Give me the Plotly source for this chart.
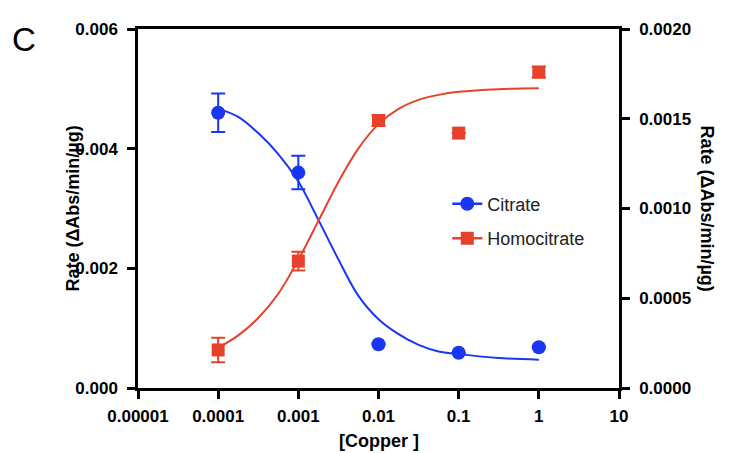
import plotly.graph_objects as go

# ---- data ----
copper = [0.0001, 0.001, 0.01, 0.1, 1]
citrate = [0.0046, 0.0036, 0.00073, 0.00059, 0.00068]
citrate_err = [0.00032, 0.00028, 0, 0, 0]
homocitrate = [0.000212, 0.000707, 0.00149, 0.00142, 0.00176]
homocitrate_err = [0.000068, 0.000052, 0.00003, 0, 0.00003]

# fitted curves
fit_x = [0.0001, 0.000178, 0.000316, 0.000562, 0.001, 0.00178, 0.00316, 0.00562,
         0.01, 0.0178, 0.0316, 0.0562, 0.1, 0.316, 1]
citrate_fit = [0.00467, 0.00453, 0.00426, 0.00391, 0.00345, 0.00281, 0.00215, 0.00154,
               0.00115, 0.0009, 0.00072, 0.00061, 0.000566, 0.0005, 0.000473]
homocitrate_fit = [0.000224, 0.000293, 0.00039, 0.000525, 0.000714, 0.000931, 0.001148, 0.001335,
                   0.00147, 0.001555, 0.001605, 0.001633, 0.00165, 0.001665, 0.00167]

x_tickvals = [0.00001, 0.0001, 0.001, 0.01, 0.1, 1, 10]
x_ticktext = ["0.00001", "0.0001", "0.001", "0.01", "0.1", "1", "10"]
y1_ticks = [0, 0.002, 0.004, 0.006]
y2_ticks = [0, 0.0005, 0.001, 0.0015, 0.002]

BLUE = "#1836F3"
RED = "#E8412B"
FONT = "Liberation Sans, Arial, sans-serif"

fig = go.Figure()

fig.add_trace(go.Scatter(x=fit_x, y=citrate_fit, mode="lines", line=dict(color=BLUE, width=2, shape="spline"),
                         showlegend=False, yaxis="y"))
fig.add_trace(go.Scatter(x=fit_x, y=homocitrate_fit, mode="lines", line=dict(color=RED, width=2, shape="spline"),
                         showlegend=False, yaxis="y2"))
fig.add_trace(go.Scatter(x=copper, y=citrate, mode="markers",
                         marker=dict(symbol="circle", size=14, color=BLUE),
                         error_y=dict(type="data", array=citrate_err, color=BLUE, thickness=2, width=7),
                         showlegend=False, yaxis="y"))
fig.add_trace(go.Scatter(x=copper, y=homocitrate, mode="markers",
                         marker=dict(symbol="square", size=13, color=RED),
                         error_y=dict(type="data", array=homocitrate_err, color=RED, thickness=2, width=7),
                         showlegend=False, yaxis="y2"))
# legend entries
fig.add_trace(go.Scatter(x=[None], y=[None], mode="lines+markers", name="Citrate",
                         line=dict(color=BLUE, width=2.5), marker=dict(symbol="circle", size=14, color=BLUE),
                         legendgroup="a"))
fig.add_trace(go.Scatter(x=[None], y=[None], mode="lines+markers", name="Homocitrate",
                         line=dict(color=RED, width=2.5), marker=dict(symbol="square", size=13, color=RED),
                         legendgroup="b"))

axis_common = dict(showline=True, linecolor="black", linewidth=2.5, ticks="outside", ticklen=8,
                   tickwidth=2.5, tickcolor="black", showgrid=False, zeroline=False,
                   tickfont=dict(family=FONT, size=17, color="black", weight="bold"))

fig.update_layout(
    width=731, height=453,
    margin=dict(l=130, r=120, t=12, b=73),
    paper_bgcolor="white", plot_bgcolor="white",
    showlegend=True,
    legend=dict(x=0.643, y=0.465, xanchor="left", yanchor="middle", bgcolor="rgba(0,0,0,0)",
                font=dict(family=FONT, size=18, color="#222"), tracegroupgap=8, traceorder="grouped"),
    xaxis=dict(type="log", range=[-5, 1], tickvals=x_tickvals, ticktext=x_ticktext, mirror=True,
               ticklabelstandoff=3, **axis_common),
    yaxis=dict(range=[0, 0.006], tickvals=y1_ticks, tickformat=".3f", ticklabelstandoff=6, **axis_common),
    yaxis2=dict(range=[0, 0.002], tickvals=y2_ticks, tickformat=".4f", overlaying="y", side="right",
                ticklabelstandoff=6, **axis_common),
    annotations=[
        dict(text="C", xref="paper", yref="paper", x=-0.266, y=0.970, xanchor="left", yanchor="middle",
             showarrow=False, font=dict(family=FONT, size=33, color="black")),
        dict(text="<b>Rate (ΔAbs/min/µg)</b>", xref="paper", yref="paper", x=-0.137, y=0.5,
             xanchor="center", yanchor="middle",
             textangle=-90, showarrow=False, font=dict(family=FONT, size=18, color="black")),
        dict(text="<b>Rate (ΔAbs/min/µg)</b>", xref="paper", yref="paper", x=1.185, y=0.5,
             xanchor="center", yanchor="middle",
             textangle=90, showarrow=False, font=dict(family=FONT, size=18, color="black")),
        dict(text="<b>[Copper ]</b>", xref="paper", yref="paper", x=0.501, y=-0.149,
             xanchor="center", yanchor="middle",
             showarrow=False, font=dict(family=FONT, size=18, color="black")),
    ],
)

fig.write_html("out.html")
